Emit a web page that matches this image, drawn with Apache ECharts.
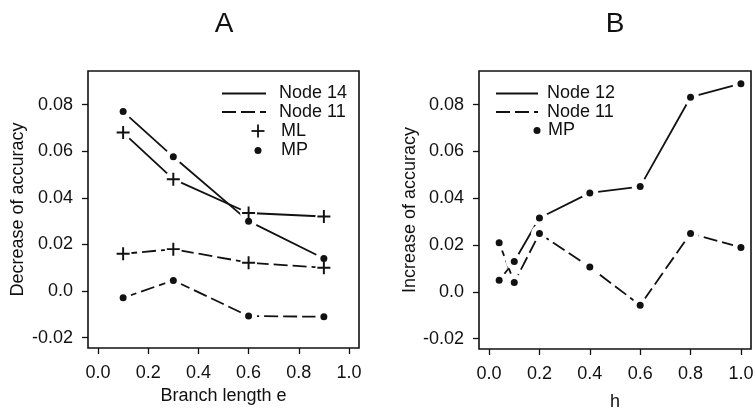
<!DOCTYPE html>
<html>
<head>
<meta charset="utf-8">
<script src="https://cdn.jsdelivr.net/npm/echarts@6/dist/echarts.min.js"></script>
<style>html,body{margin:0;padding:0;background:#fff}#c{width:755px;height:411px}</style>
</head>
<body>
<div id="c"></div>
<script>
// ---- Panel A data ----
const xA = [0.1, 0.3, 0.6, 0.9];
const mlNode14 = [0.068, 0.048, 0.0335, 0.032];
const mpNode14 = [0.077, 0.0576, 0.030, 0.014];
const mlNode11 = [0.016, 0.018, 0.0122, 0.010];
const mpNode11 = [-0.0029, 0.0046, -0.0107, -0.011];
// ---- Panel B data ----
const xB = [0.04, 0.1, 0.2, 0.4, 0.6, 0.8, 1.0];
const node12B = [0.005, 0.013, 0.0316, 0.0423, 0.045, 0.0832, 0.089];
const node11B = [0.021, 0.004, 0.025, 0.0106, -0.0057, 0.025, 0.019];
// ---- ticks ----
const xTickValues = [0, 0.2, 0.4, 0.6, 0.8, 1.0];
const xTickLabels = ['0.0', '0.2', '0.4', '0.6', '0.8', '1.0'];
const yTickValues = [-0.02, 0, 0.02, 0.04, 0.06, 0.08];
const yTickLabels = ['-0.02', '0.0', '0.02', '0.04', '0.06', '0.08'];
const titles = ['A', 'B'];
const xNames = ['Branch length e', 'h'];
const yNames = ['Decrease of accuracy', 'Increase of accuracy'];

const FONT = '"Liberation Sans", Arial, Helvetica, sans-serif';
const INK = '#111';
const DASH = [14, 5];
const PLUS = 'path://M0,8.5H20V11.5H0Z M8.5,0H11.5V20H8.5Z';

function pairs(xs, ys) { return xs.map((x, i) => [x, ys[i]]); }
function lbl(values, labels) {
  return v => { const i = values.findIndex(t => Math.abs(t - v) < 1e-9); return i >= 0 ? labels[i] : ''; };
}

function xAxisFor(g, gap) {
  return {
    type: 'value', gridIndex: g, min: -0.04, max: 1.04, position: 'bottom',
    name: xNames[g], nameLocation: 'middle', nameGap: gap,
    nameTextStyle: { fontFamily: FONT, fontSize: 18, color: INK },
    axisLine: { show: false, onZero: false },
    splitLine: { show: false },
    axisTick: { show: true, inside: false, length: 6, customValues: xTickValues, lineStyle: { color: INK, width: 1.3 } },
    axisLabel: { customValues: xTickValues, formatter: lbl(xTickValues, xTickLabels), margin: 16,
      fontFamily: FONT, fontSize: 18, color: INK }
  };
}
function yAxisFor(g, gap) {
  return {
    type: 'value', gridIndex: g, min: -0.0244, max: 0.0944, position: 'left',
    name: yNames[g], nameLocation: 'middle', nameGap: gap,
    nameTextStyle: { fontFamily: FONT, fontSize: 18, color: INK },
    axisLine: { show: false, onZero: false },
    splitLine: { show: false },
    axisTick: { show: true, inside: false, length: 6, customValues: yTickValues, lineStyle: { color: INK, width: 1.3 } },
    axisLabel: { customValues: yTickValues, formatter: lbl(yTickValues, yTickLabels), margin: 15,
      fontFamily: FONT, fontSize: 18, color: INK }
  };
}

function lineSeries(g, data, dashed) {
  return { type: 'line', xAxisIndex: g, yAxisIndex: g, data: data, showSymbol: false, z: 2, silent: true,
    lineStyle: { color: INK, width: 1.8, type: dashed ? DASH : 'solid' } };
}
function gapSeries(g, data) {
  return { type: 'scatter', xAxisIndex: g, yAxisIndex: g, data: data, symbol: 'circle', symbolSize: 17, z: 3, silent: true,
    itemStyle: { color: '#fff', opacity: 1 } };
}
function markSeries(g, data, sym) {
  return { type: 'scatter', xAxisIndex: g, yAxisIndex: g, data: data, z: 4, silent: true,
    symbol: sym === 'plus' ? PLUS : 'circle', symbolSize: sym === 'plus' ? 13 : 7,
    itemStyle: { color: INK, opacity: 1 } };
}

const A1 = pairs(xA, mlNode14), A2 = pairs(xA, mpNode14), A3 = pairs(xA, mlNode11), A4 = pairs(xA, mpNode11);
const B1 = pairs(xB, node12B), B2 = pairs(xB, node11B);

function legendLine(x1, x2, y, dashed) {
  return { type: 'line', shape: { x1: x1, y1: y, x2: x2, y2: y }, silent: true,
    style: { stroke: INK, lineWidth: 1.8, lineDash: dashed ? DASH : null } };
}
function legendText(x, y, t) {
  return { type: 'text', x: x, y: y, silent: true,
    style: { text: t, font: '18px ' + FONT, fill: INK, verticalAlign: 'middle', align: 'left' } };
}
function legendPlus(cx, cy) {
  return { type: 'group', silent: true, children: [
    { type: 'line', shape: { x1: cx - 6.5, y1: cy, x2: cx + 6.5, y2: cy }, style: { stroke: INK, lineWidth: 1.8 } },
    { type: 'line', shape: { x1: cx, y1: cy - 6.5, x2: cx, y2: cy + 6.5 }, style: { stroke: INK, lineWidth: 1.8 } }
  ] };
}
function legendDot(cx, cy) {
  return { type: 'circle', shape: { cx: cx, cy: cy, r: 3.5 }, silent: true, style: { fill: INK } };
}
function titleText(x, t) {
  return { type: 'text', x: x, y: 24, silent: true,
    style: { text: t, font: '28px ' + FONT, fill: INK, align: 'center', verticalAlign: 'middle' } };
}

const chart = echarts.init(document.getElementById('c'), null, { renderer: 'canvas' });
chart.setOption({
  animation: false,
  backgroundColor: '#fff',
  grid: [
    { left: 88, right: 396, top: 71, bottom: 63, show: true, borderColor: INK, borderWidth: 1.6, backgroundColor: 'transparent', outerBoundsMode: 'none', containLabel: false },
    { left: 479, right: 4, top: 71, bottom: 62, show: true, borderColor: INK, borderWidth: 1.6, backgroundColor: 'transparent', outerBoundsMode: 'none', containLabel: false }
  ],
  xAxis: [xAxisFor(0, 34), xAxisFor(1, 44)],
  yAxis: [yAxisFor(0, 61), yAxisFor(1, 57)],
  series: [
    lineSeries(0, A1, false), lineSeries(0, A2, false), lineSeries(0, A3, true), lineSeries(0, A4, true),
    lineSeries(1, B1, false), lineSeries(1, B2, true),
    gapSeries(0, A1), gapSeries(0, A2), gapSeries(0, A3), gapSeries(0, A4),
    gapSeries(1, B1), gapSeries(1, B2),
    markSeries(0, A1, 'plus'), markSeries(0, A2, 'dot'), markSeries(0, A3, 'plus'), markSeries(0, A4, 'dot'),
    markSeries(1, B1, 'dot'), markSeries(1, B2, 'dot')
  ],
  graphic: [
    titleText(224, titles[0]), titleText(615, titles[1]),
    legendLine(222, 266, 93.5, false), legendText(279, 93.5, 'Node 14'),
    legendLine(222, 266, 112, true), legendText(279, 112, 'Node 11'),
    legendPlus(258, 131), legendText(281, 131, 'ML'),
    legendDot(258, 150.5), legendText(281, 150.5, 'MP'),
    legendLine(496, 538, 93.5, false), legendText(547, 93.5, 'Node 12'),
    legendLine(496, 538, 112, true), legendText(547, 112, 'Node 11'),
    legendDot(537, 130.5), legendText(548, 130.5, 'MP')
  ]
});
</script>
</body>
</html>
